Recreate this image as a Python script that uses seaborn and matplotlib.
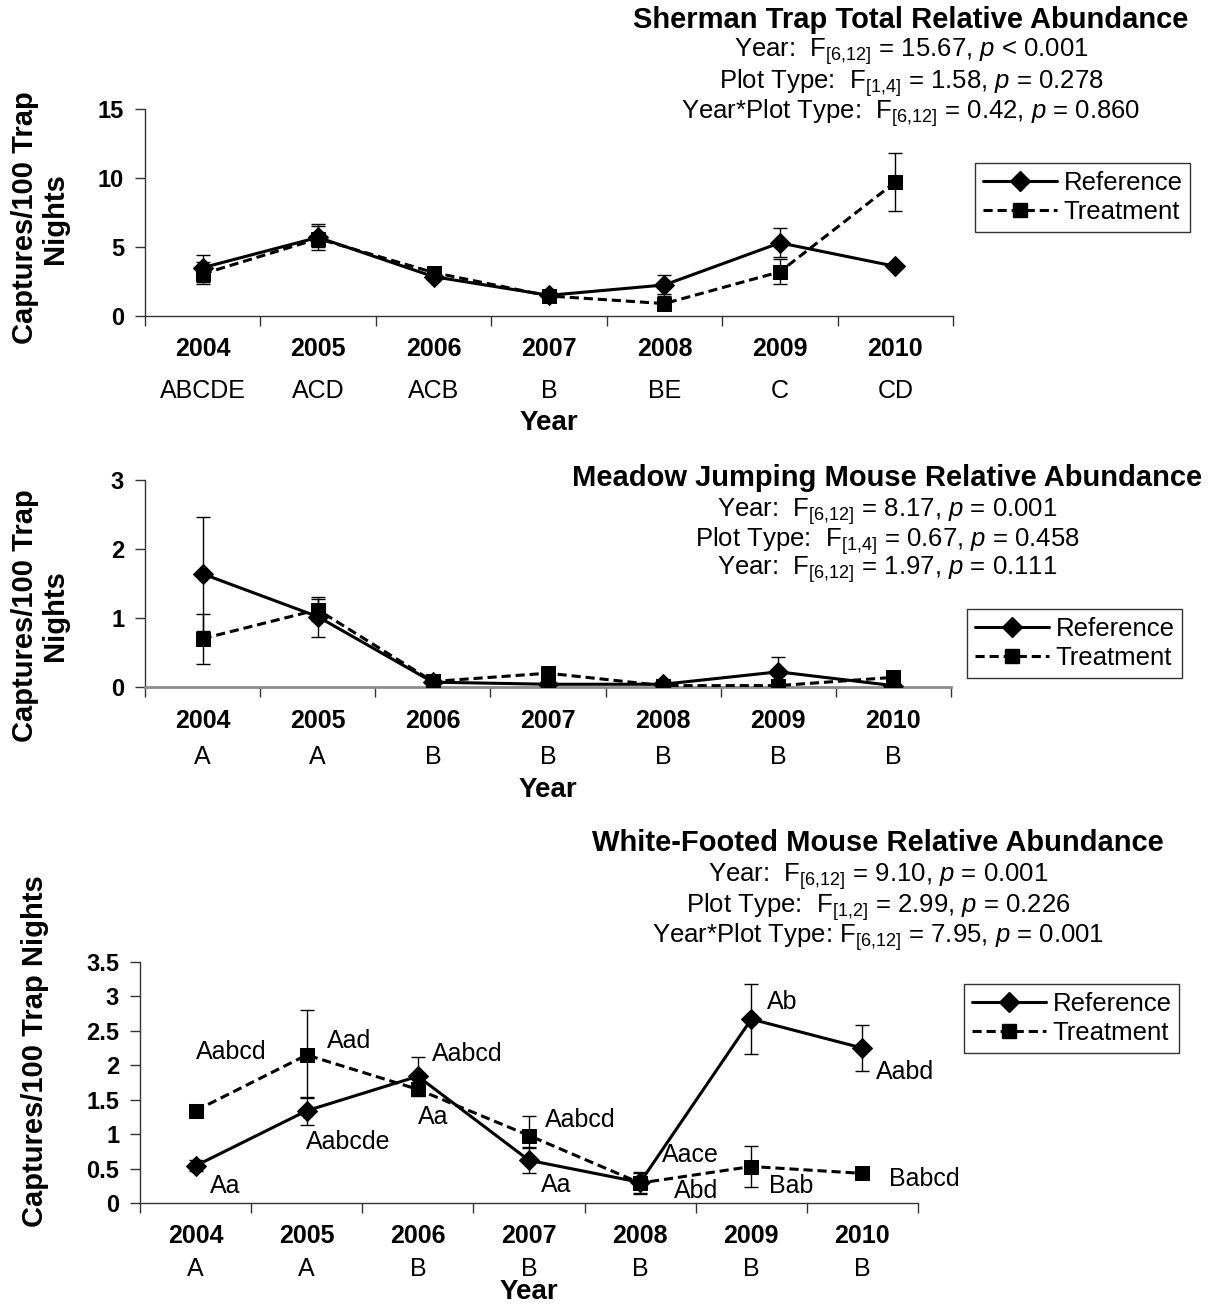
import numpy as np
import pandas as pd
import matplotlib
matplotlib.use("Agg")
import matplotlib.pyplot as plt
from matplotlib.lines import Line2D
from matplotlib.ticker import FixedLocator, NullFormatter, FixedFormatter
import seaborn as sns

sns.set_style("ticks")
plt.rcParams['font.family'] = ['Liberation Sans', 'DejaVu Sans']
plt.rcParams['mathtext.fontset'] = 'custom'
plt.rcParams['mathtext.rm'] = 'Liberation Sans'
plt.rcParams['mathtext.it'] = 'Liberation Sans:italic'
for key in ['text.color', 'axes.labelcolor', 'xtick.color', 'ytick.color']:
    plt.rcParams[key] = 'black'

years = ['2004', '2005', '2006', '2007', '2008', '2009', '2010']

# Sherman trap total
sher_ref = [3.5, 5.7, 2.85, 1.5, 2.25, 5.3, 3.6]
sher_ref_lo = [2.5, 4.8, 2.6, 1.35, 1.6, 4.25, 3.45]
sher_ref_hi = [4.45, 6.7, 3.1, 1.65, 2.95, 6.35, 3.75]
sher_trt = [3.05, 5.6, 3.15, 1.45, 0.9, 3.2, 9.7]
sher_trt_lo = [2.3, 5.0, 2.9, 1.25, 0.45, 2.35, 7.6]
sher_trt_hi = [3.9, 6.5, 3.4, 1.65, 1.45, 4.1, 11.8]
sher_letters = ['ABCDE', 'ACD', 'ACB', 'B', 'BE', 'C', 'CD']

# Meadow jumping mouse
mjm_ref = [1.64, 1.02, 0.07, 0.04, 0.04, 0.22, 0.02]
mjm_ref_lo = [0.81, 0.73, 0.05, 0.02, 0.02, 0.01, 0.0]
mjm_ref_hi = [2.47, 1.31, 0.09, 0.06, 0.07, 0.43, 0.04]
mjm_trt = [0.70, 1.12, 0.08, 0.20, 0.02, 0.02, 0.14]
mjm_trt_lo = [0.34, 0.95, 0.06, 0.15, 0.0, 0.0, 0.08]
mjm_trt_hi = [1.06, 1.28, 0.11, 0.25, 0.04, 0.04, 0.20]
mjm_letters = ['A', 'A', 'B', 'B', 'B', 'B', 'B']

# White-footed mouse
wfm_ref = [0.54, 1.34, 1.84, 0.62, 0.30, 2.67, 2.25]
wfm_ref_lo = [0.47, 1.13, 1.60, 0.44, 0.15, 2.17, 1.92]
wfm_ref_hi = [0.62, 1.54, 2.12, 0.81, 0.45, 3.18, 2.59]
wfm_trt = [1.34, 2.15, 1.65, 0.98, 0.29, 0.53, 0.43]
wfm_trt_lo = [1.28, 1.52, 1.55, 0.80, 0.13, 0.23, 0.40]
wfm_trt_hi = [1.40, 2.81, 1.75, 1.26, 0.43, 0.83, 0.46]
wfm_letters = ['A', 'A', 'B', 'B', 'B', 'B', 'B']
wfm_pair_labels = ['Aabcd', 'Aad', 'Aabcd', 'Aa', 'Aabcde', 'Aa', 'Aabcd', 'Aa',
                   'Aace', 'Abd', 'Ab', 'Aabd', 'Bab', 'Babcd']
wfm_pair_x = [0.0, 1.18, 2.13, 2.0, 0.99, 0.13, 3.14, 3.11, 4.2, 4.3, 5.14, 6.12, 5.16, 6.24]
wfm_pair_y = [2.19, 2.35, 2.17, 1.25, 0.88, 0.25, 1.21, 0.26, 0.70, 0.18, 2.92, 1.90, 0.25, 0.35]

W, H = 1213, 1306
fig = plt.figure(figsize=(W / 100, H / 100), dpi=100)


def px(x, y):
    return x / W, 1 - y / H


def make_axes(l, t, r, b):
    return fig.add_axes([l / W, 1 - b / H, (r - l) / W, (b - t) / H])


def draw_panel(ax, ref, ref_lo, ref_hi, trt, trt_lo, trt_hi, ymax, ystep, letters,
               year_off, letter_off, xlabel_y, ylabel_text, ylabel_pos):
    pos = np.arange(len(years))
    df = pd.DataFrame({
        'pos': np.concatenate([pos, pos]),
        'value': ref + trt,
        'series': ['Reference'] * 7 + ['Treatment'] * 7,
    })
    for lo, hi, vals in [(ref_lo, ref_hi, ref), (trt_lo, trt_hi, trt)]:
        v = np.array(vals)
        ax.errorbar(pos, v, yerr=[v - np.array(lo), np.array(hi) - v], fmt='none',
                    ecolor='black', elinewidth=1, capsize=5, capthick=1, zorder=2)
    sns.lineplot(data=df, x='pos', y='value', style='series',
                 markers={'Reference': 'D', 'Treatment': 's'},
                 dashes={'Reference': '', 'Treatment': (3, 1.6)},
                 color='black', linewidth=2.2, markersize=10,
                 markeredgecolor='black', legend=False, ax=ax, zorder=3)
    ax.set_xlim(-0.5, 6.5)
    ax.set_ylim(0, ymax)
    ax.xaxis.set_major_locator(FixedLocator(np.arange(-0.5, 7, 1)))
    ax.xaxis.set_major_formatter(NullFormatter())
    ax.xaxis.set_minor_locator(FixedLocator(pos))
    ax.xaxis.set_minor_formatter(FixedFormatter(years))
    ax.tick_params(axis='x', which='major', direction='out', length=7, width=1, color='#333333')
    ax.tick_params(axis='x', which='minor', length=0, pad=year_off, labelsize=18)
    for lab in ax.get_xticklabels(minor=True):
        lab.set_fontweight('bold')
    yt = np.arange(0, ymax + 1e-9, ystep)
    ax.set_yticks(yt)
    ax.set_yticklabels(['{:g}'.format(t) for t in yt], fontsize=17, fontweight='bold')
    ax.tick_params(axis='y', direction='out', length=7, width=1, color='#333333', pad=8)
    sns.despine(ax=ax)
    for s in ['left', 'bottom']:
        ax.spines[s].set_color('#333333')
        ax.spines[s].set_linewidth(1)
    for i, lt in enumerate(letters):
        ax.annotate(lt, xy=(i, 0), xycoords=('data', 'axes fraction'),
                    xytext=(0, -letter_off * 0.72), textcoords='offset points',
                    ha='center', va='center', fontsize=18)
    ax.set_xlabel('Year', fontsize=20, fontweight='bold')
    ax.xaxis.set_label_coords(0.5, xlabel_y)
    ax.xaxis.label.set_va('center')
    ax.set_ylabel(ylabel_text, fontsize=21, fontweight='bold', linespacing=1.1)
    ax.yaxis.set_label_coords(*ylabel_pos)
    ax.yaxis.label.set_va('center')
    ax.patch.set_alpha(0)


def legend_at(ax, x, y):
    handles = [
        Line2D([], [], color='black', lw=2.2, marker='D', markersize=10, ls='-'),
        Line2D([], [], color='black', lw=2.2, marker='s', markersize=10, ls=(0, (3, 1.6))),
    ]
    leg = ax.legend(handles, ['Reference', 'Treatment'], loc='upper left',
                    bbox_to_anchor=px(x, y), bbox_transform=fig.transFigure,
                    fontsize=18.5, frameon=True, fancybox=False, borderaxespad=0,
                    handlelength=2.9, handletextpad=0.25, borderpad=0.3, labelspacing=0.2)
    leg.get_frame().set_edgecolor('black')
    leg.get_frame().set_linewidth(1)


def header(cx, ty, title, lines, ys):
    fig.text(*px(cx, ty), title, ha='center', va='center', fontsize=21, fontweight='bold')
    for ln, yy in zip(lines, ys):
        fig.text(*px(cx, yy), ln, ha='center', va='center', fontsize=18.5)


# panel 1
ax1 = make_axes(145, 109, 953, 316)
draw_panel(ax1, sher_ref, sher_ref_lo, sher_ref_hi, sher_trt, sher_trt_lo, sher_trt_hi,
           15, 5, sher_letters, 15, 75, -107 / 207, 'Captures/100 Trap\nNights', (-0.13, 0.473))
legend_at(ax1, 975, 163)
header(911, 20, 'Sherman Trap Total Relative Abundance',
       [r'Year:  F$_{[6{,}12]}$ = 15.67, $p$ < 0.001',
        r'Plot Type:  F$_{[1{,}4]}$ = 1.58, $p$ = 0.278',
        r'Year*Plot Type:  F$_{[6{,}12]}$ = 0.42, $p$ = 0.860'],
       [52, 83, 113])

# panel 2
ax2 = make_axes(145, 480, 951, 687)
draw_panel(ax2, mjm_ref, mjm_ref_lo, mjm_ref_hi, mjm_trt, mjm_trt_lo, mjm_trt_hi,
           3, 1, mjm_letters, 16, 70, -103 / 207, 'Captures/100 Trap\nNights', (-0.13, 0.343))
ax2.spines['bottom'].set_color('#8c8c8c')
ax2.spines['bottom'].set_linewidth(2)
legend_at(ax2, 967, 609)
header(887, 478, 'Meadow Jumping Mouse Relative Abundance',
       [r'Year:  F$_{[6{,}12]}$ = 8.17, $p$ = 0.001',
        r'Plot Type:  F$_{[1{,}4]}$ = 0.67, $p$ = 0.458',
        r'Year:  F$_{[6{,}12]}$ = 1.97, $p$ = 0.111'],
       [512, 541, 570])

# panel 3
ax3 = make_axes(140, 962, 918, 1203)
draw_panel(ax3, wfm_ref, wfm_ref_lo, wfm_ref_hi, wfm_trt, wfm_trt_lo, wfm_trt_hi,
           3.5, 0.5, wfm_letters, 15, 66, -89 / 241, 'Captures/100 Trap Nights', (-0.135, 0.63))
for lab, xx, yy in zip(wfm_pair_labels, wfm_pair_x, wfm_pair_y):
    ax3.text(xx, yy, lab, ha='left', va='center', fontsize=18)
legend_at(ax3, 964, 984)
header(878, 843, 'White-Footed Mouse Relative Abundance',
       [r'Year:  F$_{[6{,}12]}$ = 9.10, $p$ = 0.001',
        r'Plot Type:  F$_{[1{,}2]}$ = 2.99, $p$ = 0.226',
        r'Year*Plot Type: F$_{[6{,}12]}$ = 7.95, $p$ = 0.001'],
       [877, 907, 937])

fig.savefig('out.png', dpi=100, facecolor='white')
